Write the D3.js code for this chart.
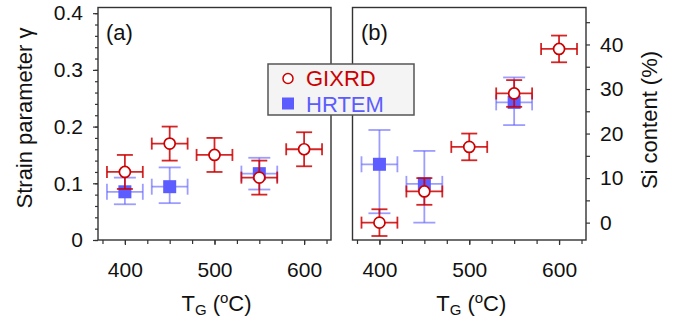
<!DOCTYPE html>
<meta charset="utf-8">
<style>
body { margin: 0; background: #fff; }
svg { font-family: "Liberation Sans", Arial, sans-serif; }
.axis path { display: none; }
.axis line { stroke: #333; stroke-width: 1.2; }
.axis text { font-size: 21px; fill: #111; }
.frame { fill: none; stroke: #333; stroke-width: 1.4; }
.title { font-size: 22px; fill: #111; }
</style>
<body>
<script src="https://d3js.org/d3.v7.min.js"></script>
<script>

// growth temperature (deg C)
var temps = [400, 450, 500, 550, 600];
var hrtemTemps = [400, 450, 550];
var tempErr = 20;

// (a) strain parameter
var gixrdStrain = [0.12, 0.17, 0.15, 0.11, 0.16];
var gixrdStrainErr = [0.03, 0.03, 0.03, 0.03, 0.03];
var hrtemStrain = [0.085, 0.094, 0.117];
var hrtemStrainLo = [0.063, 0.065, 0.089];
var hrtemStrainHi = [0.11, 0.128, 0.145];

// (b) Si content (%)
var gixrdSi = [0, 7, 17, 29, 39];
var gixrdSiErr = [3, 3, 3, 3, 3];
var hrtemSi = [13.1, 8.7, 27];
var hrtemSiLo = [2.1, 0, 21.9];
var hrtemSiHi = [20.8, 16.1, 32.6];

var xTicks = [400, 500, 600];
var strainTicks = [0, 0.1, 0.2, 0.3, 0.4];
var siTicks = [0, 10, 20, 30, 40];

var red = "#cc0000", blue = "#5c5cff";

var svg = d3.select("body").append("svg")
    .attr("width", 679)
    .attr("height", 324);

var top_ = 7.5, bottom_ = 240;

var xa = d3.scaleLinear().domain([370, 630]).range([98, 331]);
var xb = d3.scaleLinear().domain([370, 630]).range([352.5, 586]);
var ya = d3.scaleLinear().domain([0, 0.41]).range([bottom_, top_]);
var yb = d3.scaleLinear().domain([-3.9, 48.3]).range([bottom_, top_]);

function xAxes(x) {
  // minor ticks every 25
  svg.append("g").attr("class", "axis")
      .attr("transform", "translate(0," + bottom_ + ")")
      .call(d3.axisBottom(x).tickValues(d3.range(375, 630, 25)).tickSize(4).tickFormat(""));
  svg.append("g").attr("class", "axis")
      .attr("transform", "translate(0," + bottom_ + ")")
      .call(d3.axisBottom(x).tickValues(xTicks).tickSize(5).tickPadding(17));
}

function frame(x, y) {
  svg.append("rect").attr("class", "frame")
      .attr("x", x.range()[0]).attr("y", top_)
      .attr("width", x.range()[1] - x.range()[0])
      .attr("height", bottom_ - top_);
}

// panel (a) axes
xAxes(xa);
svg.append("g").attr("class", "axis")
    .attr("transform", "translate(" + xa.range()[0] + ",0)")
    .call(d3.axisLeft(ya).tickValues(d3.range(0, 0.41, 0.02)).tickSize(3).tickFormat(""));
svg.append("g").attr("class", "axis")
    .attr("transform", "translate(" + xa.range()[0] + ",0)")
    .call(d3.axisLeft(ya).tickValues(strainTicks).tickSize(5).tickPadding(10)
      .tickFormat(function(d) { return d === 0 ? "0" : d3.format(".1f")(d); }));

// panel (b) axes
xAxes(xb);
svg.append("g").attr("class", "axis")
    .attr("transform", "translate(" + xb.range()[1] + ",0)")
    .call(d3.axisRight(yb).tickValues(d3.range(0, 46, 5)).tickSize(4).tickPadding(10)
      .tickFormat(function(d) { return siTicks.indexOf(d) >= 0 ? d : ""; }));

frame(xa, ya);
frame(xb, yb);

function errorBars(g, x, y, xs, ys, lo, hi, color, opacity, capV, capH) {
  var d = xs.map(function(t, i) { return {t: t, v: ys[i], lo: lo[i], hi: hi[i]}; });
  var e = g.selectAll(null).data(d).enter().append("g")
      .attr("stroke", color).attr("stroke-width", 1.8).attr("stroke-opacity", opacity).attr("fill", "none");
  // vertical
  e.append("line")
      .attr("x1", function(d) { return x(d.t); }).attr("x2", function(d) { return x(d.t); })
      .attr("y1", function(d) { return y(d.lo); }).attr("y2", function(d) { return y(d.hi); });
  e.append("line")
      .attr("x1", function(d) { return x(d.t) - capV; }).attr("x2", function(d) { return x(d.t) + capV; })
      .attr("y1", function(d) { return y(d.lo); }).attr("y2", function(d) { return y(d.lo); });
  e.append("line")
      .attr("x1", function(d) { return x(d.t) - capV; }).attr("x2", function(d) { return x(d.t) + capV; })
      .attr("y1", function(d) { return y(d.hi); }).attr("y2", function(d) { return y(d.hi); });
  // horizontal
  e.append("line")
      .attr("x1", function(d) { return x(d.t - tempErr); }).attr("x2", function(d) { return x(d.t + tempErr); })
      .attr("y1", function(d) { return y(d.v); }).attr("y2", function(d) { return y(d.v); });
  e.append("line")
      .attr("x1", function(d) { return x(d.t - tempErr); }).attr("x2", function(d) { return x(d.t - tempErr); })
      .attr("y1", function(d) { return y(d.v) - capH; }).attr("y2", function(d) { return y(d.v) + capH; });
  e.append("line")
      .attr("x1", function(d) { return x(d.t + tempErr); }).attr("x2", function(d) { return x(d.t + tempErr); })
      .attr("y1", function(d) { return y(d.v) - capH; }).attr("y2", function(d) { return y(d.v) + capH; });
}

function squares(g, x, y, xs, ys) {
  g.selectAll(null).data(xs).enter().append("rect")
      .attr("x", function(d) { return x(d) - 6.5; })
      .attr("y", function(d, i) { return y(ys[i]) - 6.5; })
      .attr("width", 13).attr("height", 13)
      .attr("fill", blue);
}

function circles(g, x, y, xs, ys) {
  g.selectAll(null).data(xs).enter().append("circle")
      .attr("cx", function(d) { return x(d); })
      .attr("cy", function(d, i) { return y(ys[i]); })
      .attr("r", 5.5)
      .attr("fill", "#fff").attr("stroke", red).attr("stroke-width", 1.7);
}

// panel (a) data
var ga = svg.append("g");
errorBars(ga, xa, ya, hrtemTemps, hrtemStrain, hrtemStrainLo, hrtemStrainHi, blue, 0.6, 11, 8);
squares(ga, xa, ya, hrtemTemps, hrtemStrain);
errorBars(ga, xa, ya, temps, gixrdStrain,
  gixrdStrain.map(function(v, i) { return v - gixrdStrainErr[i]; }),
  gixrdStrain.map(function(v, i) { return v + gixrdStrainErr[i]; }), red, 0.85, 8, 6);
circles(ga, xa, ya, temps, gixrdStrain);

// panel (b) data
var gb = svg.append("g");
errorBars(gb, xb, yb, hrtemTemps, hrtemSi, hrtemSiLo, hrtemSiHi, blue, 0.6, 11, 8);
squares(gb, xb, yb, hrtemTemps, hrtemSi);
errorBars(gb, xb, yb, temps, gixrdSi,
  gixrdSi.map(function(v, i) { return v - gixrdSiErr[i]; }),
  gixrdSi.map(function(v, i) { return v + gixrdSiErr[i]; }), red, 0.85, 8, 6);
circles(gb, xb, yb, temps, gixrdSi);

// panel labels
svg.append("text").attr("class", "title").attr("x", 106).attr("y", 40).text("(a)");
svg.append("text").attr("class", "title").attr("x", 361).attr("y", 40).text("(b)");

// axis titles
svg.append("text").attr("class", "title")
    .attr("transform", "translate(32,118) rotate(-90)")
    .attr("text-anchor", "middle").text("Strain parameter \u03b3");
svg.append("text").attr("class", "title")
    .attr("transform", "translate(657,120) rotate(-90)")
    .attr("text-anchor", "middle").text("Si content (%)");

[xa, xb].forEach(function(x) {
  var t = svg.append("text").attr("class", "title")
      .attr("x", (x.range()[0] + x.range()[1]) / 2 + 2).attr("y", 311)
      .attr("text-anchor", "middle");
  t.append("tspan").text("T");
  t.append("tspan").attr("font-size", "15px").attr("dy", 4).text("G");
  t.append("tspan").attr("dy", -4).text(" (");
  t.append("tspan").attr("font-size", "15px").attr("dy", -8).text("o");
  t.append("tspan").attr("dy", 8).text("C)");
});

// legend
var lg = svg.append("g").attr("transform", "translate(268,64)");
lg.append("rect").attr("width", 146).attr("height", 51)
    .attr("fill", "#f4f4f4").attr("stroke", "#555").attr("stroke-width", 1.5);
lg.append("circle").attr("cx", 20).attr("cy", 14.5).attr("r", 5)
    .attr("fill", "#fff").attr("stroke", red).attr("stroke-width", 1.5);
lg.append("rect").attr("x", 14).attr("y", 33.5).attr("width", 12).attr("height", 12).attr("fill", blue);
lg.append("text").attr("x", 38).attr("y", 21.5).attr("font-size", "22px").attr("fill", red).text("GIXRD");
lg.append("text").attr("x", 38).attr("y", 47.5).attr("font-size", "22px").attr("fill", blue).text("HRTEM");

</script>
